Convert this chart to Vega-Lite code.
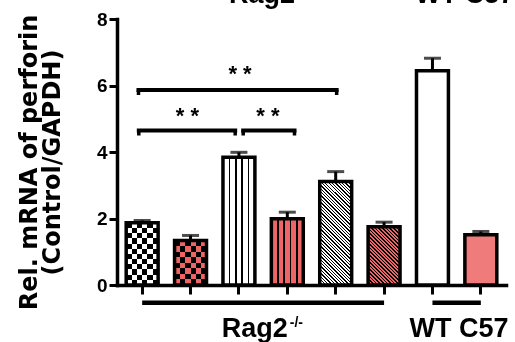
{
"$schema": "https://vega.github.io/schema/vega-lite/v6.json",
"width": 389,
"height": 266,
"autosize": {"type": "none"},
"padding": {"left": 117, "top": 19, "right": 9, "bottom": 57},
"background": "white",
"config": {"view": {"stroke": null}, "axis": {"domainCap": "square"}},
"datasets": {
"bars": [
{"bar": "b1", "group": "Rag2-/-", "mean": 1.87, "upper": 1.94},
{"bar": "b2", "group": "Rag2-/-", "mean": 1.34, "upper": 1.49},
{"bar": "b3", "group": "Rag2-/-", "mean": 3.84, "upper": 3.99},
{"bar": "b4", "group": "Rag2-/-", "mean": 1.99, "upper": 2.19},
{"bar": "b5", "group": "Rag2-/-", "mean": 3.11, "upper": 3.41},
{"bar": "b6", "group": "Rag2-/-", "mean": 1.75, "upper": 1.89},
{"bar": "b7", "group": "WT C57", "mean": 6.44, "upper": 6.82},
{"bar": "b8", "group": "WT C57", "mean": 1.51, "upper": 1.61}
],
"groups": [
{"group": "Rag2-/-", "first": "b1", "last": "b6", "label": "Rag2", "sup": "-/-"},
{"group": "WT C57", "first": "b7", "last": "b8", "label": "WT C57", "sup": ""}
],
"comparisons": [
{"pair": "b1-b5", "stars": "* *"},
{"pair": "b1-b3", "stars": "* *"},
{"pair": "b3-b4", "stars": "* *"}
]
},
"data": {"name": "bars"},
"layer": [
{
"mark": {"type": "rule", "strokeWidth": 3, "color": "black"},
"encoding": {
"x": {"field": "bar", "type": "nominal", "scale": {"domain": ["b1","b2","b3","b4","b5","b6","b7","b8"], "paddingInner": 0.34, "paddingOuter": 0.19},
"axis": {"title": null, "labels": false, "ticks": true, "tickSize": 9, "tickWidth": 3, "tickColor": "black", "domainColor": "black", "domainWidth": 3.5, "grid": false}},
"y": {"field": "mean", "type": "quantitative", "scale": {"domain": [0, 8], "nice": false},
"axis": {"values": [0, 2, 4, 6, 8], "title": ["Rel. mRNA of perforin", "(Control/GAPDH)"], "titleFont": "DejaVu Sans", "titleFontSize": 24, "titleFontWeight": "bold", "titleColor": "black", "titleAngle": -90, "titleAlign": "center", "titleBaseline": "alphabetic", "titleLineHeight": 23, "titleX": -81, "titleY": 143, "labelFont": "Liberation Sans", "labelFontSize": 19, "labelFontWeight": "bold", "labelColor": "black", "labelPadding": 2, "labelFlush": false, "tickSize": 8, "tickWidth": 3, "tickColor": "black", "domainColor": "black", "domainWidth": 3.5, "grid": false}},
"y2": {"field": "upper"}
}
},
{
"mark": {"type": "tick", "size": 17, "thickness": 3, "color": "black"},
"encoding": {
"x": {"field": "bar", "type": "nominal", "scale": {"domain": ["b1","b2","b3","b4","b5","b6","b7","b8"], "paddingInner": 0.34, "paddingOuter": 0.19}},
"y": {"field": "upper", "type": "quantitative", "scale": {"domain": [0, 8], "nice": false}}
}
},
{
"transform": [{"filter": "datum.bar == 'b1'"}],
"mark": {"type": "bar", "fill": {"gradient": "linear", "x1": 0, "y1": 0, "x2": 0, "y2": 1, "stops": [
{"offset":0,"color":"#fff"},{"offset":0.0833,"color":"#fff"},{"offset":0.0833,"color":"#000"},{"offset":0.1667,"color":"#000"},{"offset":0.1667,"color":"#fff"},{"offset":0.25,"color":"#fff"},{"offset":0.25,"color":"#000"},{"offset":0.3333,"color":"#000"},{"offset":0.3333,"color":"#fff"},{"offset":0.4167,"color":"#fff"},{"offset":0.4167,"color":"#000"},{"offset":0.5,"color":"#000"},{"offset":0.5,"color":"#fff"},{"offset":0.5833,"color":"#fff"},{"offset":0.5833,"color":"#000"},{"offset":0.6667,"color":"#000"},{"offset":0.6667,"color":"#fff"},{"offset":0.75,"color":"#fff"},{"offset":0.75,"color":"#000"},{"offset":0.8333,"color":"#000"},{"offset":0.8333,"color":"#fff"},{"offset":0.9167,"color":"#fff"},{"offset":0.9167,"color":"#000"},{"offset":1,"color":"#000"}
]}},
"encoding": {
"x": {"field": "bar", "type": "nominal", "scale": {"domain": ["b1","b2","b3","b4","b5","b6","b7","b8"], "paddingInner": 0.34, "paddingOuter": 0.19}},
"y": {"field": "mean", "type": "quantitative", "scale": {"domain": [0, 8], "nice": false}}
}
},
{
"transform": [{"filter": "datum.bar == 'b1'"}],
"mark": {"type": "bar", "blend": "difference", "fill": {"gradient": "linear", "x1": 0, "y1": 0, "x2": 1, "y2": 0, "stops": [
{"offset":0,"color":"#fff"},{"offset":0.1667,"color":"#fff"},{"offset":0.1667,"color":"#000"},{"offset":0.3333,"color":"#000"},{"offset":0.3333,"color":"#fff"},{"offset":0.5,"color":"#fff"},{"offset":0.5,"color":"#000"},{"offset":0.6667,"color":"#000"},{"offset":0.6667,"color":"#fff"},{"offset":0.8333,"color":"#fff"},{"offset":0.8333,"color":"#000"},{"offset":1,"color":"#000"}
]}},
"encoding": {
"x": {"field": "bar", "type": "nominal", "scale": {"domain": ["b1","b2","b3","b4","b5","b6","b7","b8"], "paddingInner": 0.34, "paddingOuter": 0.19}},
"y": {"field": "mean", "type": "quantitative", "scale": {"domain": [0, 8], "nice": false}}
}
},
{
"transform": [{"filter": "datum.bar == 'b2'"}],
"mark": {"type": "bar", "fill": {"gradient": "linear", "x1": 0, "y1": 0, "x2": 0, "y2": 1, "stops": [
{"offset":0,"color":"#fff"},{"offset":0.125,"color":"#fff"},{"offset":0.125,"color":"#000"},{"offset":0.25,"color":"#000"},{"offset":0.25,"color":"#fff"},{"offset":0.375,"color":"#fff"},{"offset":0.375,"color":"#000"},{"offset":0.5,"color":"#000"},{"offset":0.5,"color":"#fff"},{"offset":0.625,"color":"#fff"},{"offset":0.625,"color":"#000"},{"offset":0.75,"color":"#000"},{"offset":0.75,"color":"#fff"},{"offset":0.875,"color":"#fff"},{"offset":0.875,"color":"#000"},{"offset":1,"color":"#000"}
]}},
"encoding": {
"x": {"field": "bar", "type": "nominal", "scale": {"domain": ["b1","b2","b3","b4","b5","b6","b7","b8"], "paddingInner": 0.34, "paddingOuter": 0.19}},
"y": {"field": "mean", "type": "quantitative", "scale": {"domain": [0, 8], "nice": false}}
}
},
{
"transform": [{"filter": "datum.bar == 'b2'"}],
"mark": {"type": "bar", "blend": "difference", "fill": {"gradient": "linear", "x1": 0, "y1": 0, "x2": 1, "y2": 0, "stops": [
{"offset":0,"color":"#fff"},{"offset":0.1667,"color":"#fff"},{"offset":0.1667,"color":"#000"},{"offset":0.3333,"color":"#000"},{"offset":0.3333,"color":"#fff"},{"offset":0.5,"color":"#fff"},{"offset":0.5,"color":"#000"},{"offset":0.6667,"color":"#000"},{"offset":0.6667,"color":"#fff"},{"offset":0.8333,"color":"#fff"},{"offset":0.8333,"color":"#000"},{"offset":1,"color":"#000"}
]}},
"encoding": {
"x": {"field": "bar", "type": "nominal", "scale": {"domain": ["b1","b2","b3","b4","b5","b6","b7","b8"], "paddingInner": 0.34, "paddingOuter": 0.19}},
"y": {"field": "mean", "type": "quantitative", "scale": {"domain": [0, 8], "nice": false}}
}
},
{
"transform": [{"filter": "datum.bar == 'b2'"}],
"mark": {"type": "bar", "blend": "multiply", "fill": "#EF6464"},
"encoding": {
"x": {"field": "bar", "type": "nominal", "scale": {"domain": ["b1","b2","b3","b4","b5","b6","b7","b8"], "paddingInner": 0.34, "paddingOuter": 0.19}},
"y": {"field": "mean", "type": "quantitative", "scale": {"domain": [0, 8], "nice": false}}
}
},
{
"transform": [{"filter": "datum.bar == 'b3'"}],
"mark": {"type": "bar", "fill": {"gradient": "linear", "x1": 0, "y1": 0, "x2": 1, "y2": 0, "stops": [
{"offset":0,"color":"#fff"},{"offset":0.175,"color":"#fff"},{"offset":0.175,"color":"#000"},{"offset":0.225,"color":"#000"},{"offset":0.225,"color":"#fff"},{"offset":0.375,"color":"#fff"},{"offset":0.375,"color":"#000"},{"offset":0.425,"color":"#000"},{"offset":0.425,"color":"#fff"},{"offset":0.575,"color":"#fff"},{"offset":0.575,"color":"#000"},{"offset":0.625,"color":"#000"},{"offset":0.625,"color":"#fff"},{"offset":0.775,"color":"#fff"},{"offset":0.775,"color":"#000"},{"offset":0.825,"color":"#000"},{"offset":0.825,"color":"#fff"},{"offset":1,"color":"#fff"}
]}},
"encoding": {
"x": {"field": "bar", "type": "nominal", "scale": {"domain": ["b1","b2","b3","b4","b5","b6","b7","b8"], "paddingInner": 0.34, "paddingOuter": 0.19}},
"y": {"field": "mean", "type": "quantitative", "scale": {"domain": [0, 8], "nice": false}}
}
},
{
"transform": [{"filter": "datum.bar == 'b4'"}],
"mark": {"type": "bar", "fill": {"gradient": "linear", "x1": 0, "y1": 0, "x2": 1, "y2": 0, "stops": [
{"offset":0,"color":"#EF6464"},{"offset":0.16875,"color":"#EF6464"},{"offset":0.16875,"color":"#000"},{"offset":0.23125,"color":"#000"},{"offset":0.23125,"color":"#EF6464"},{"offset":0.36875,"color":"#EF6464"},{"offset":0.36875,"color":"#000"},{"offset":0.43125,"color":"#000"},{"offset":0.43125,"color":"#EF6464"},{"offset":0.56875,"color":"#EF6464"},{"offset":0.56875,"color":"#000"},{"offset":0.63125,"color":"#000"},{"offset":0.63125,"color":"#EF6464"},{"offset":0.76875,"color":"#EF6464"},{"offset":0.76875,"color":"#000"},{"offset":0.83125,"color":"#000"},{"offset":0.83125,"color":"#EF6464"},{"offset":1,"color":"#EF6464"}
]}},
"encoding": {
"x": {"field": "bar", "type": "nominal", "scale": {"domain": ["b1","b2","b3","b4","b5","b6","b7","b8"], "paddingInner": 0.34, "paddingOuter": 0.19}},
"y": {"field": "mean", "type": "quantitative", "scale": {"domain": [0, 8], "nice": false}}
}
},
{
"transform": [{"filter": "datum.bar == 'b5'"}],
"mark": {"type": "bar", "fill": {"gradient": "linear", "x1": 0, "y1": 1, "x2": 0.3689, "y2": -0.1949, "stops": [
{"offset":0,"color":"#fff"},
{"offset":0.015,"color":"#fff"},{"offset":0.015,"color":"#000"},{"offset":0.025,"color":"#000"},{"offset":0.025,"color":"#fff"},
{"offset":0.04,"color":"#fff"},{"offset":0.04,"color":"#000"},{"offset":0.05,"color":"#000"},{"offset":0.05,"color":"#fff"},
{"offset":0.065,"color":"#fff"},{"offset":0.065,"color":"#000"},{"offset":0.075,"color":"#000"},{"offset":0.075,"color":"#fff"},
{"offset":0.09,"color":"#fff"},{"offset":0.09,"color":"#000"},{"offset":0.1,"color":"#000"},{"offset":0.1,"color":"#fff"},
{"offset":0.115,"color":"#fff"},{"offset":0.115,"color":"#000"},{"offset":0.125,"color":"#000"},{"offset":0.125,"color":"#fff"},
{"offset":0.14,"color":"#fff"},{"offset":0.14,"color":"#000"},{"offset":0.15,"color":"#000"},{"offset":0.15,"color":"#fff"},
{"offset":0.165,"color":"#fff"},{"offset":0.165,"color":"#000"},{"offset":0.175,"color":"#000"},{"offset":0.175,"color":"#fff"},
{"offset":0.19,"color":"#fff"},{"offset":0.19,"color":"#000"},{"offset":0.2,"color":"#000"},{"offset":0.2,"color":"#fff"},
{"offset":0.215,"color":"#fff"},{"offset":0.215,"color":"#000"},{"offset":0.225,"color":"#000"},{"offset":0.225,"color":"#fff"},
{"offset":0.24,"color":"#fff"},{"offset":0.24,"color":"#000"},{"offset":0.25,"color":"#000"},{"offset":0.25,"color":"#fff"},
{"offset":0.265,"color":"#fff"},{"offset":0.265,"color":"#000"},{"offset":0.275,"color":"#000"},{"offset":0.275,"color":"#fff"},
{"offset":0.29,"color":"#fff"},{"offset":0.29,"color":"#000"},{"offset":0.3,"color":"#000"},{"offset":0.3,"color":"#fff"},
{"offset":0.315,"color":"#fff"},{"offset":0.315,"color":"#000"},{"offset":0.325,"color":"#000"},{"offset":0.325,"color":"#fff"},
{"offset":0.34,"color":"#fff"},{"offset":0.34,"color":"#000"},{"offset":0.35,"color":"#000"},{"offset":0.35,"color":"#fff"},
{"offset":0.365,"color":"#fff"},{"offset":0.365,"color":"#000"},{"offset":0.375,"color":"#000"},{"offset":0.375,"color":"#fff"},
{"offset":0.39,"color":"#fff"},{"offset":0.39,"color":"#000"},{"offset":0.4,"color":"#000"},{"offset":0.4,"color":"#fff"},
{"offset":0.415,"color":"#fff"},{"offset":0.415,"color":"#000"},{"offset":0.425,"color":"#000"},{"offset":0.425,"color":"#fff"},
{"offset":0.44,"color":"#fff"},{"offset":0.44,"color":"#000"},{"offset":0.45,"color":"#000"},{"offset":0.45,"color":"#fff"},
{"offset":0.465,"color":"#fff"},{"offset":0.465,"color":"#000"},{"offset":0.475,"color":"#000"},{"offset":0.475,"color":"#fff"},
{"offset":0.49,"color":"#fff"},{"offset":0.49,"color":"#000"},{"offset":0.5,"color":"#000"},{"offset":0.5,"color":"#fff"},
{"offset":0.515,"color":"#fff"},{"offset":0.515,"color":"#000"},{"offset":0.525,"color":"#000"},{"offset":0.525,"color":"#fff"},
{"offset":0.54,"color":"#fff"},{"offset":0.54,"color":"#000"},{"offset":0.55,"color":"#000"},{"offset":0.55,"color":"#fff"},
{"offset":0.565,"color":"#fff"},{"offset":0.565,"color":"#000"},{"offset":0.575,"color":"#000"},{"offset":0.575,"color":"#fff"},
{"offset":0.59,"color":"#fff"},{"offset":0.59,"color":"#000"},{"offset":0.6,"color":"#000"},{"offset":0.6,"color":"#fff"},
{"offset":0.615,"color":"#fff"},{"offset":0.615,"color":"#000"},{"offset":0.625,"color":"#000"},{"offset":0.625,"color":"#fff"},
{"offset":0.64,"color":"#fff"},{"offset":0.64,"color":"#000"},{"offset":0.65,"color":"#000"},{"offset":0.65,"color":"#fff"},
{"offset":0.665,"color":"#fff"},{"offset":0.665,"color":"#000"},{"offset":0.675,"color":"#000"},{"offset":0.675,"color":"#fff"},
{"offset":0.69,"color":"#fff"},{"offset":0.69,"color":"#000"},{"offset":0.7,"color":"#000"},{"offset":0.7,"color":"#fff"},
{"offset":0.715,"color":"#fff"},{"offset":0.715,"color":"#000"},{"offset":0.725,"color":"#000"},{"offset":0.725,"color":"#fff"},
{"offset":0.74,"color":"#fff"},{"offset":0.74,"color":"#000"},{"offset":0.75,"color":"#000"},{"offset":0.75,"color":"#fff"},
{"offset":0.765,"color":"#fff"},{"offset":0.765,"color":"#000"},{"offset":0.775,"color":"#000"},{"offset":0.775,"color":"#fff"},
{"offset":0.79,"color":"#fff"},{"offset":0.79,"color":"#000"},{"offset":0.8,"color":"#000"},{"offset":0.8,"color":"#fff"},
{"offset":0.815,"color":"#fff"},{"offset":0.815,"color":"#000"},{"offset":0.825,"color":"#000"},{"offset":0.825,"color":"#fff"},
{"offset":0.84,"color":"#fff"},{"offset":0.84,"color":"#000"},{"offset":0.85,"color":"#000"},{"offset":0.85,"color":"#fff"},
{"offset":0.865,"color":"#fff"},{"offset":0.865,"color":"#000"},{"offset":0.875,"color":"#000"},{"offset":0.875,"color":"#fff"},
{"offset":0.89,"color":"#fff"},{"offset":0.89,"color":"#000"},{"offset":0.9,"color":"#000"},{"offset":0.9,"color":"#fff"},
{"offset":0.915,"color":"#fff"},{"offset":0.915,"color":"#000"},{"offset":0.925,"color":"#000"},{"offset":0.925,"color":"#fff"},
{"offset":0.94,"color":"#fff"},{"offset":0.94,"color":"#000"},{"offset":0.95,"color":"#000"},{"offset":0.95,"color":"#fff"},
{"offset":0.965,"color":"#fff"},{"offset":0.965,"color":"#000"},{"offset":0.975,"color":"#000"},{"offset":0.975,"color":"#fff"},
{"offset":0.99,"color":"#fff"},{"offset":0.99,"color":"#000"},{"offset":1,"color":"#000"}
]}},
"encoding": {
"x": {"field": "bar", "type": "nominal", "scale": {"domain": ["b1","b2","b3","b4","b5","b6","b7","b8"], "paddingInner": 0.34, "paddingOuter": 0.19}},
"y": {"field": "mean", "type": "quantitative", "scale": {"domain": [0, 8], "nice": false}}
}
},
{
"transform": [{"filter": "datum.bar == 'b6'"}],
"mark": {"type": "bar", "fill": {"gradient": "linear", "x1": 0, "y1": 1, "x2": 0.6532, "y2": -0.1903, "stops": [
{"offset":0,"color":"#EF6464"},
{"offset":0.022,"color":"#EF6464"},{"offset":0.022,"color":"#000"},{"offset":0.04,"color":"#000"},{"offset":0.04,"color":"#EF6464"},
{"offset":0.062,"color":"#EF6464"},{"offset":0.062,"color":"#000"},{"offset":0.08,"color":"#000"},{"offset":0.08,"color":"#EF6464"},
{"offset":0.102,"color":"#EF6464"},{"offset":0.102,"color":"#000"},{"offset":0.12,"color":"#000"},{"offset":0.12,"color":"#EF6464"},
{"offset":0.142,"color":"#EF6464"},{"offset":0.142,"color":"#000"},{"offset":0.16,"color":"#000"},{"offset":0.16,"color":"#EF6464"},
{"offset":0.182,"color":"#EF6464"},{"offset":0.182,"color":"#000"},{"offset":0.2,"color":"#000"},{"offset":0.2,"color":"#EF6464"},
{"offset":0.222,"color":"#EF6464"},{"offset":0.222,"color":"#000"},{"offset":0.24,"color":"#000"},{"offset":0.24,"color":"#EF6464"},
{"offset":0.262,"color":"#EF6464"},{"offset":0.262,"color":"#000"},{"offset":0.28,"color":"#000"},{"offset":0.28,"color":"#EF6464"},
{"offset":0.302,"color":"#EF6464"},{"offset":0.302,"color":"#000"},{"offset":0.32,"color":"#000"},{"offset":0.32,"color":"#EF6464"},
{"offset":0.342,"color":"#EF6464"},{"offset":0.342,"color":"#000"},{"offset":0.36,"color":"#000"},{"offset":0.36,"color":"#EF6464"},
{"offset":0.382,"color":"#EF6464"},{"offset":0.382,"color":"#000"},{"offset":0.4,"color":"#000"},{"offset":0.4,"color":"#EF6464"},
{"offset":0.422,"color":"#EF6464"},{"offset":0.422,"color":"#000"},{"offset":0.44,"color":"#000"},{"offset":0.44,"color":"#EF6464"},
{"offset":0.462,"color":"#EF6464"},{"offset":0.462,"color":"#000"},{"offset":0.48,"color":"#000"},{"offset":0.48,"color":"#EF6464"},
{"offset":0.502,"color":"#EF6464"},{"offset":0.502,"color":"#000"},{"offset":0.52,"color":"#000"},{"offset":0.52,"color":"#EF6464"},
{"offset":0.542,"color":"#EF6464"},{"offset":0.542,"color":"#000"},{"offset":0.56,"color":"#000"},{"offset":0.56,"color":"#EF6464"},
{"offset":0.582,"color":"#EF6464"},{"offset":0.582,"color":"#000"},{"offset":0.6,"color":"#000"},{"offset":0.6,"color":"#EF6464"},
{"offset":0.622,"color":"#EF6464"},{"offset":0.622,"color":"#000"},{"offset":0.64,"color":"#000"},{"offset":0.64,"color":"#EF6464"},
{"offset":0.662,"color":"#EF6464"},{"offset":0.662,"color":"#000"},{"offset":0.68,"color":"#000"},{"offset":0.68,"color":"#EF6464"},
{"offset":0.702,"color":"#EF6464"},{"offset":0.702,"color":"#000"},{"offset":0.72,"color":"#000"},{"offset":0.72,"color":"#EF6464"},
{"offset":0.742,"color":"#EF6464"},{"offset":0.742,"color":"#000"},{"offset":0.76,"color":"#000"},{"offset":0.76,"color":"#EF6464"},
{"offset":0.782,"color":"#EF6464"},{"offset":0.782,"color":"#000"},{"offset":0.8,"color":"#000"},{"offset":0.8,"color":"#EF6464"},
{"offset":0.822,"color":"#EF6464"},{"offset":0.822,"color":"#000"},{"offset":0.84,"color":"#000"},{"offset":0.84,"color":"#EF6464"},
{"offset":0.862,"color":"#EF6464"},{"offset":0.862,"color":"#000"},{"offset":0.88,"color":"#000"},{"offset":0.88,"color":"#EF6464"},
{"offset":0.902,"color":"#EF6464"},{"offset":0.902,"color":"#000"},{"offset":0.92,"color":"#000"},{"offset":0.92,"color":"#EF6464"},
{"offset":0.942,"color":"#EF6464"},{"offset":0.942,"color":"#000"},{"offset":0.96,"color":"#000"},{"offset":0.96,"color":"#EF6464"},
{"offset":0.982,"color":"#EF6464"},{"offset":0.982,"color":"#000"},{"offset":1,"color":"#000"}
]}},
"encoding": {
"x": {"field": "bar", "type": "nominal", "scale": {"domain": ["b1","b2","b3","b4","b5","b6","b7","b8"], "paddingInner": 0.34, "paddingOuter": 0.19}},
"y": {"field": "mean", "type": "quantitative", "scale": {"domain": [0, 8], "nice": false}}
}
},
{
"transform": [{"filter": "datum.bar == 'b7'"}],
"mark": {"type": "bar", "fill": "#ffffff"},
"encoding": {
"x": {"field": "bar", "type": "nominal", "scale": {"domain": ["b1","b2","b3","b4","b5","b6","b7","b8"], "paddingInner": 0.34, "paddingOuter": 0.19}},
"y": {"field": "mean", "type": "quantitative", "scale": {"domain": [0, 8], "nice": false}}
}
},
{
"transform": [{"filter": "datum.bar == 'b8'"}],
"mark": {"type": "bar", "fill": "#F07B7B"},
"encoding": {
"x": {"field": "bar", "type": "nominal", "scale": {"domain": ["b1","b2","b3","b4","b5","b6","b7","b8"], "paddingInner": 0.34, "paddingOuter": 0.19}},
"y": {"field": "mean", "type": "quantitative", "scale": {"domain": [0, 8], "nice": false}}
}
},
{
"mark": {"type": "bar", "fill": "transparent", "stroke": "black", "strokeWidth": 3.5},
"encoding": {
"x": {"field": "bar", "type": "nominal", "scale": {"domain": ["b1","b2","b3","b4","b5","b6","b7","b8"], "paddingInner": 0.34, "paddingOuter": 0.19}},
"y": {"field": "mean", "type": "quantitative", "scale": {"domain": [0, 8], "nice": false}}
}
},
{
"data": {"name": "groups"},
"mark": {"type": "rule", "strokeWidth": 4.5, "color": "black"},
"encoding": {
"x": {"field": "first", "type": "nominal", "scale": {"domain": ["b1","b2","b3","b4","b5","b6","b7","b8"], "paddingInner": 0.34, "paddingOuter": 0.19}},
"x2": {"field": "last"},
"y": {"datum": -0.532, "type": "quantitative", "scale": {"domain": [0, 8], "nice": false}}
}
},
{
"data": {"name": "groups"},
"transform": [{"filter": "datum.group == 'Rag2-/-'"}],
"mark": {"type": "text", "font": "Liberation Sans", "fontSize": 27, "fontWeight": "bold", "align": "right", "baseline": "alphabetic", "dx": 0.5, "color": "black"},
"encoding": {
"x": {"datum": "b4", "type": "nominal", "bandPosition": 0.5, "scale": {"domain": ["b1","b2","b3","b4","b5","b6","b7","b8"], "paddingInner": 0.34, "paddingOuter": 0.19}},
"y": {"datum": -1.564, "type": "quantitative", "scale": {"domain": [0, 8], "nice": false}},
"text": {"field": "label"}
}
},
{
"data": {"name": "groups"},
"transform": [{"filter": "datum.group == 'Rag2-/-'"}],
"mark": {"type": "text", "font": "Liberation Sans", "fontSize": 14, "fontWeight": "bold", "align": "left", "baseline": "alphabetic", "dx": 2.5, "color": "black"},
"encoding": {
"x": {"datum": "b4", "type": "nominal", "bandPosition": 0.5, "scale": {"domain": ["b1","b2","b3","b4","b5","b6","b7","b8"], "paddingInner": 0.34, "paddingOuter": 0.19}},
"y": {"datum": -1.263, "type": "quantitative", "scale": {"domain": [0, 8], "nice": false}},
"text": {"field": "sup"}
}
},
{
"data": {"name": "groups"},
"transform": [{"filter": "datum.group == 'WT C57'"}],
"mark": {"type": "text", "font": "Liberation Sans", "fontSize": 27, "fontWeight": "bold", "align": "center", "baseline": "alphabetic", "dx": -5.9, "color": "black"},
"encoding": {
"x": {"datum": "b8", "type": "nominal", "bandPosition": 0, "scale": {"domain": ["b1","b2","b3","b4","b5","b6","b7","b8"], "paddingInner": 0.34, "paddingOuter": 0.19}},
"y": {"datum": -1.564, "type": "quantitative", "scale": {"domain": [0, 8], "nice": false}},
"text": {"field": "label"}
}
},
{
"data": {"name": "groups"},
"transform": [{"filter": "datum.group == 'Rag2-/-'"}],
"mark": {"type": "text", "font": "Liberation Sans", "fontSize": 27, "fontWeight": "bold", "align": "right", "baseline": "alphabetic", "dx": 7.6, "color": "black"},
"encoding": {
"x": {"datum": "b4", "type": "nominal", "bandPosition": 0.5, "scale": {"domain": ["b1","b2","b3","b4","b5","b6","b7","b8"], "paddingInner": 0.34, "paddingOuter": 0.19}},
"y": {"datum": 8.496, "type": "quantitative", "scale": {"domain": [0, 8], "nice": false}},
"text": {"field": "label"}
}
},
{
"data": {"name": "groups"},
"transform": [{"filter": "datum.group == 'WT C57'"}],
"mark": {"type": "text", "font": "Liberation Sans", "fontSize": 27, "fontWeight": "bold", "align": "center", "baseline": "alphabetic", "dx": 0, "color": "black"},
"encoding": {
"x": {"datum": "b8", "type": "nominal", "bandPosition": 0, "scale": {"domain": ["b1","b2","b3","b4","b5","b6","b7","b8"], "paddingInner": 0.34, "paddingOuter": 0.19}},
"y": {"datum": 8.496, "type": "quantitative", "scale": {"domain": [0, 8], "nice": false}},
"text": {"field": "label"}
}
},
{
"data": {"name": "comparisons"},
"transform": [{"filter": "datum.pair == 'b1-b5'"}],
"mark": {"type": "rule", "strokeWidth": 4, "strokeCap": "square", "color": "black"},
"encoding": {
"x": {"datum": "b1", "type": "nominal", "bandPosition": 0.385, "scale": {"domain": ["b1","b2","b3","b4","b5","b6","b7","b8"], "paddingInner": 0.34, "paddingOuter": 0.19}},
"x2": {"datum": "b5", "bandPosition": 0.53},
"y": {"datum": 5.865, "type": "quantitative", "scale": {"domain": [0, 8], "nice": false}}
}
},
{
"data": {"name": "comparisons"},
"transform": [{"filter": "datum.pair == 'b1-b5'"}],
"mark": {"type": "rule", "strokeWidth": 3.5, "color": "black"},
"encoding": {
"x": {"datum": "b1", "type": "nominal", "bandPosition": 0.385, "scale": {"domain": ["b1","b2","b3","b4","b5","b6","b7","b8"], "paddingInner": 0.34, "paddingOuter": 0.19}},
"y": {"datum": 5.865, "type": "quantitative", "scale": {"domain": [0, 8], "nice": false}},
"y2": {"datum": 5.714}
}
},
{
"data": {"name": "comparisons"},
"transform": [{"filter": "datum.pair == 'b1-b5'"}],
"mark": {"type": "rule", "strokeWidth": 3.5, "color": "black"},
"encoding": {
"x": {"datum": "b5", "type": "nominal", "bandPosition": 0.53, "scale": {"domain": ["b1","b2","b3","b4","b5","b6","b7","b8"], "paddingInner": 0.34, "paddingOuter": 0.19}},
"y": {"datum": 5.865, "type": "quantitative", "scale": {"domain": [0, 8], "nice": false}},
"y2": {"datum": 5.714}
}
},
{
"data": {"name": "comparisons"},
"transform": [{"filter": "datum.pair == 'b1-b5'"}],
"mark": {"type": "text", "font": "Liberation Sans", "fontSize": 22, "fontWeight": "bold", "align": "center", "baseline": "alphabetic", "color": "black"},
"encoding": {
"x": {"datum": "b3", "type": "nominal", "bandPosition": 0.535, "scale": {"domain": ["b1","b2","b3","b4","b5","b6","b7","b8"], "paddingInner": 0.34, "paddingOuter": 0.19}},
"y": {"datum": 6.135, "type": "quantitative", "scale": {"domain": [0, 8], "nice": false}},
"text": {"field": "stars"}
}
},
{
"data": {"name": "comparisons"},
"transform": [{"filter": "datum.pair == 'b1-b3'"}],
"mark": {"type": "rule", "strokeWidth": 4, "strokeCap": "square", "color": "black"},
"encoding": {
"x": {"datum": "b1", "type": "nominal", "bandPosition": 0.395, "scale": {"domain": ["b1","b2","b3","b4","b5","b6","b7","b8"], "paddingInner": 0.34, "paddingOuter": 0.19}},
"x2": {"datum": "b3", "bandPosition": 0.383},
"y": {"datum": 4.647, "type": "quantitative", "scale": {"domain": [0, 8], "nice": false}}
}
},
{
"data": {"name": "comparisons"},
"transform": [{"filter": "datum.pair == 'b1-b3'"}],
"mark": {"type": "rule", "strokeWidth": 3.5, "color": "black"},
"encoding": {
"x": {"datum": "b1", "type": "nominal", "bandPosition": 0.395, "scale": {"domain": ["b1","b2","b3","b4","b5","b6","b7","b8"], "paddingInner": 0.34, "paddingOuter": 0.19}},
"y": {"datum": 4.647, "type": "quantitative", "scale": {"domain": [0, 8], "nice": false}},
"y2": {"datum": 4.496}
}
},
{
"data": {"name": "comparisons"},
"transform": [{"filter": "datum.pair == 'b1-b3'"}],
"mark": {"type": "rule", "strokeWidth": 3.5, "color": "black"},
"encoding": {
"x": {"datum": "b3", "type": "nominal", "bandPosition": 0.383, "scale": {"domain": ["b1","b2","b3","b4","b5","b6","b7","b8"], "paddingInner": 0.34, "paddingOuter": 0.19}},
"y": {"datum": 4.647, "type": "quantitative", "scale": {"domain": [0, 8], "nice": false}},
"y2": {"datum": 4.496}
}
},
{
"data": {"name": "comparisons"},
"transform": [{"filter": "datum.pair == 'b1-b3'"}],
"mark": {"type": "text", "font": "Liberation Sans", "fontSize": 22, "fontWeight": "bold", "align": "center", "baseline": "alphabetic", "color": "black"},
"encoding": {
"x": {"datum": "b2", "type": "nominal", "bandPosition": 0.404, "scale": {"domain": ["b1","b2","b3","b4","b5","b6","b7","b8"], "paddingInner": 0.34, "paddingOuter": 0.19}},
"y": {"datum": 4.872, "type": "quantitative", "scale": {"domain": [0, 8], "nice": false}},
"text": {"field": "stars"}
}
},
{
"data": {"name": "comparisons"},
"transform": [{"filter": "datum.pair == 'b3-b4'"}],
"mark": {"type": "rule", "strokeWidth": 4, "strokeCap": "square", "color": "black"},
"encoding": {
"x": {"datum": "b3", "type": "nominal", "bandPosition": 0.634, "scale": {"domain": ["b1","b2","b3","b4","b5","b6","b7","b8"], "paddingInner": 0.34, "paddingOuter": 0.19}},
"x2": {"datum": "b4", "bandPosition": 0.725},
"y": {"datum": 4.647, "type": "quantitative", "scale": {"domain": [0, 8], "nice": false}}
}
},
{
"data": {"name": "comparisons"},
"transform": [{"filter": "datum.pair == 'b3-b4'"}],
"mark": {"type": "rule", "strokeWidth": 3.5, "color": "black"},
"encoding": {
"x": {"datum": "b3", "type": "nominal", "bandPosition": 0.634, "scale": {"domain": ["b1","b2","b3","b4","b5","b6","b7","b8"], "paddingInner": 0.34, "paddingOuter": 0.19}},
"y": {"datum": 4.647, "type": "quantitative", "scale": {"domain": [0, 8], "nice": false}},
"y2": {"datum": 4.496}
}
},
{
"data": {"name": "comparisons"},
"transform": [{"filter": "datum.pair == 'b3-b4'"}],
"mark": {"type": "rule", "strokeWidth": 3.5, "color": "black"},
"encoding": {
"x": {"datum": "b4", "type": "nominal", "bandPosition": 0.725, "scale": {"domain": ["b1","b2","b3","b4","b5","b6","b7","b8"], "paddingInner": 0.34, "paddingOuter": 0.19}},
"y": {"datum": 4.647, "type": "quantitative", "scale": {"domain": [0, 8], "nice": false}},
"y2": {"datum": 4.496}
}
},
{
"data": {"name": "comparisons"},
"transform": [{"filter": "datum.pair == 'b3-b4'"}],
"mark": {"type": "text", "font": "Liberation Sans", "fontSize": 22, "fontWeight": "bold", "align": "center", "baseline": "alphabetic", "color": "black"},
"encoding": {
"x": {"datum": "b3", "type": "nominal", "bandPosition": 1.41, "scale": {"domain": ["b1","b2","b3","b4","b5","b6","b7","b8"], "paddingInner": 0.34, "paddingOuter": 0.19}},
"y": {"datum": 4.872, "type": "quantitative", "scale": {"domain": [0, 8], "nice": false}},
"text": {"field": "stars"}
}
}
]
}
